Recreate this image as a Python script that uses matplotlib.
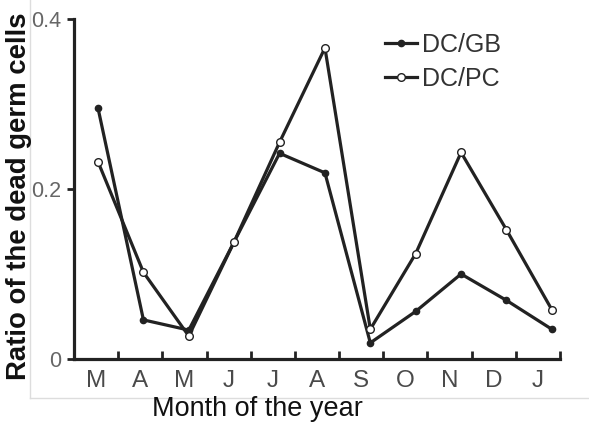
import numpy as np
import matplotlib
matplotlib.use("Agg")
import matplotlib.pyplot as plt
from matplotlib.lines import Line2D

months = ["M", "A", "M", "J", "J", "A", "S", "O", "N", "D", "J"]
dc_gb = [0.295, 0.046, 0.034, 0.138, 0.242, 0.219, 0.019, 0.056, 0.100, 0.069, 0.035]
dc_pc = [0.232, 0.102, 0.027, 0.138, 0.255, 0.366, 0.035, 0.124, 0.243, 0.152, 0.058]
yticks = [0, 0.2, 0.4]
ytick_labels = ["0", "0.2", "0.4"]

plt.rcParams['font.family'] = ['Liberation Sans', 'DejaVu Sans']

W, H = 589, 423
fig = plt.figure(figsize=(W / 100, H / 100), dpi=100)
ax = fig.add_axes([74 / W, 1 - 359 / H, (560 - 74) / W, (359 - 19) / H])

line_c = "#222222"
x = np.arange(len(months))
ax.plot(x, dc_gb, color=line_c, lw=2.3, marker="o", ms=4.5, mfc=line_c, mec=line_c,
        label="DC/GB", zorder=3)
ax.plot(x, dc_pc, color=line_c, lw=2.3, marker="o", ms=5.5, mfc="white", mec=line_c,
        mew=1.0, label="DC/PC", zorder=3)

xlim = (-0.53, 10.18)
ax.set_xlim(*xlim)
ax.set_ylim(0, 0.4)

# month labels centered in equal cells along the axis, ticks at cell borders
edges = np.linspace(xlim[0], xlim[1], len(months) + 1)
centers = (edges[:-1] + edges[1:]) / 2
ax.set_xticks(edges[1:])
ax.set_xticklabels([])
ax.set_xticks(centers, minor=True)
ax.set_xticklabels(months, minor=True)
ax.tick_params(axis="x", which="major", direction="in", length=6, width=2, color=line_c)
ax.tick_params(axis="x", which="minor", length=0, pad=8, labelsize=17.5, labelcolor="#4a4a4a")

ax.set_yticks(yticks)
ax.set_yticklabels(ytick_labels)
ax.tick_params(axis="y", direction="out", length=5, width=2, color=line_c,
               labelsize=15.5, labelcolor="#666666", pad=4)

for s in ["top", "right"]:
    ax.spines[s].set_visible(False)
for s in ["left", "bottom"]:
    ax.spines[s].set_linewidth(2.3)
    ax.spines[s].set_color(line_c)

fig.text(257 / W, 1 - 409 / H, "Month of the year", ha="center", va="center",
         fontsize=19.5, color="#111111")
fig.text(19 / W, 1 - 196 / H, "Ratio of the dead germ cells", ha="center", va="center",
         rotation=90, fontsize=19.8, fontweight="bold", color="#111111")

leg = ax.legend(loc="upper left", bbox_to_anchor=(385 / W, 1 - 33 / H),
                bbox_transform=fig.transFigure, frameon=False, fontsize=18,
                handlelength=1.3, handletextpad=0.2, labelspacing=0.4,
                borderpad=0, borderaxespad=0)
for t in leg.get_texts():
    t.set_color("#333333")

# faint scan frame lines
fig.add_artist(Line2D([30 / W, 30 / W], [1, 1 - 398 / H], transform=fig.transFigure,
                      color="#dddddd", lw=1))
fig.add_artist(Line2D([30 / W, 1], [1 - 398 / H, 1 - 398 / H], transform=fig.transFigure,
                      color="#dddddd", lw=1))

fig.savefig("out.png", dpi=100)
